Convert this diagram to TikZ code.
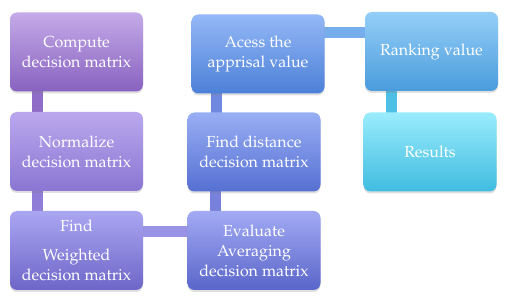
\documentclass[tikz,border=0pt]{standalone}
\usepackage[T1]{fontenc}
\usepackage{mathpazo}
\usepackage{xcolor}
\usetikzlibrary{positioning,shadows,backgrounds}
% box colours, top -> bottom
\definecolor{cmpT}{HTML}{C4AAE8}\definecolor{cmpB}{HTML}{8862C0}
\definecolor{nrmT}{HTML}{BAA8EE}\definecolor{nrmB}{HTML}{8A76D2}
\definecolor{wgtT}{HTML}{AAA6F2}\definecolor{wgtB}{HTML}{6E66C8}
\definecolor{avgT}{HTML}{A2AAF4}\definecolor{avgB}{HTML}{5A66CA}
\definecolor{dstT}{HTML}{98AEF4}\definecolor{dstB}{HTML}{5670D2}
\definecolor{aprT}{HTML}{94B8F6}\definecolor{aprB}{HTML}{4C80D8}
\definecolor{rnkT}{HTML}{94CEF8}\definecolor{rnkB}{HTML}{4A9CDC}
\definecolor{resT}{HTML}{9AECFC}\definecolor{resB}{HTML}{40BCE0}
\tikzset{
  stepbox/.style={rounded corners=7pt,minimum width=133pt,minimum height=79pt,
    align=center,text=white,font=\fontsize{16}{20}\selectfont,
    drop shadow={opacity=0.25,shadow xshift=0pt,shadow yshift=-2pt}},
  bar/.style={line width=11pt}
}
\begin{document}
\begin{tikzpicture}[x=1pt,y=1pt]
  \useasboundingbox (0,0) rectangle (509,300);
  % left column
  \node[stepbox,top color=cmpT,bottom color=cmpB] (cmp) at (76.5,248) {Compute\\decision matrix};
  \node[stepbox,top color=nrmT,bottom color=nrmB] (nrm) at (76.5,148.5) {Normalize\\decision matrix};
  \node[stepbox,top color=wgtT,bottom color=wgtB] (wgt) at (76.5,49.5) {Find\\[9pt]Weighted\\decision matrix};
  % middle column
  \node[stepbox,top color=avgT,bottom color=avgB] (avg) at (254,49.5) {Evaluate\\Averaging\\decision matrix};
  \node[stepbox,top color=dstT,bottom color=dstB] (dst) at (254,148) {Find distance\\decision matrix};
  \node[stepbox,top color=aprT,bottom color=aprB] (apr) at (258,246) {Acess the\\apprisal value};
  % right column
  \node[stepbox,top color=rnkT,bottom color=rnkB] (rnk) at (431.5,248.5) {Ranking value};
  \node[stepbox,top color=resT,bottom color=resB] (res) at (430,148) {Results};
  % connecting bars behind the boxes
  \begin{scope}[on background layer]
    \draw[bar,color=cmpB!85!nrmT] ([xshift=-39.5pt,yshift=4pt]cmp.south) -- ([xshift=-39.5pt,yshift=-4pt]nrm.north);
    \draw[bar,color=nrmB!85!wgtT] ([xshift=-39.5pt,yshift=4pt]nrm.south) -- ([xshift=-39.5pt,yshift=-4pt]wgt.north);
    \draw[bar,color=wgtT!70!wgtB] ([xshift=-4pt,yshift=19pt]wgt.east) -- ([xshift=4pt,yshift=19pt]wgt.east -| avg.west);
    \draw[bar,color=avgT!40!avgB] ([xshift=-39pt,yshift=-4pt]avg.north) -- ([xshift=-39pt,yshift=4pt]avg.north |- dst.south);
    \draw[bar,color=dstT!40!dstB] ([xshift=-38pt,yshift=-4pt]dst.north) -- ([xshift=-38pt,yshift=4pt]dst.north |- apr.south);
    \draw[bar,color=aprT!60!rnkB] ([xshift=-4pt,yshift=21pt]apr.east) -- ([xshift=4pt,yshift=21pt]apr.east -| rnk.west);
    \draw[bar,color=resB!85!rnkT] ([xshift=-40pt,yshift=4pt]rnk.south) -- ([xshift=-40pt,yshift=-4pt]rnk.south |- res.north);
  \end{scope}
\end{tikzpicture}
\end{document}
